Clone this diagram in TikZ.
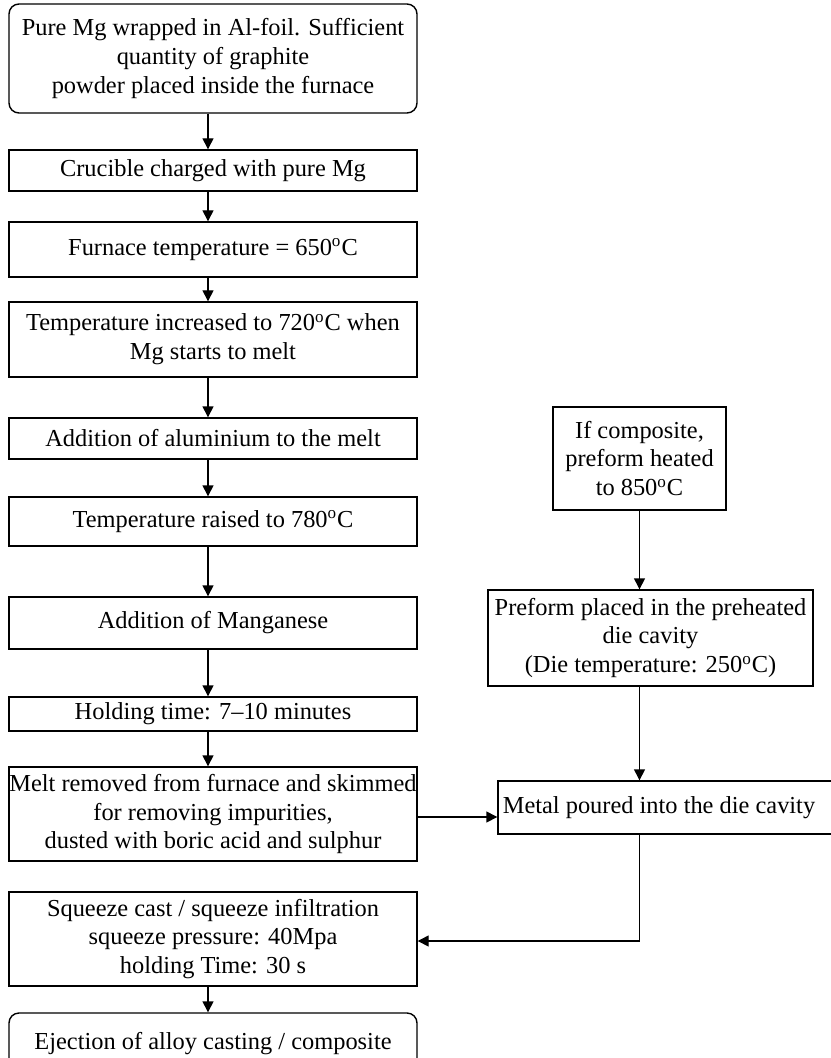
\documentclass[tikz,border=0pt]{standalone}
\usepackage{fontspec}
\setmainfont{Liberation Serif}
\usetikzlibrary{arrows.meta}
\newdimen\px \px=0.5pt
\tikzset{
  stepbox/.style={draw, line width=0.7pt, align=center, inner sep=0pt,
    font=\fontsize{12.2}{14.4}\selectfont},
  leftbox/.style={stepbox, minimum width=408\px},
  roundbox/.style={leftbox, rounded corners=5pt},
  flow/.style={-{Triangle[length=5.5pt,width=5.5pt]}, line width=0.7pt},
}
\newcommand{\degC}{\textsuperscript{o}C}
\begin{document}
\begin{tikzpicture}[x=0.5pt,y=-0.5pt]
            \useasboundingbox (0,0) rectangle (830,1058);
            %colonna sinistra
            \node[roundbox, minimum height=109\px] (wrap) at (213,58.5) {Pure Mg wrapped in Al-foil. Sufficient\\quantity of graphite\\powder placed inside the furnace};
            \node[leftbox, minimum height=41\px] (charge) at (213,170.5) {Crucible charged with pure Mg};
            \node[leftbox, minimum height=55\px] (furnace) at (213,249.5) {Furnace temperature = 650\degC};
            \node[leftbox, minimum height=75\px] (melt) at (213,339.5) {Temperature increased to 720\degC{} when\\Mg starts to melt};
            \node[leftbox, minimum height=41\px] (alu) at (213,438.5) {Addition of aluminium to the melt};
            \node[leftbox, minimum height=49\px] (raise) at (213,521.5) {Temperature raised to 780\degC};
            \node[leftbox, minimum height=52\px] (mn) at (213,623) {Addition of Manganese};
            \node[leftbox, minimum height=34\px] (hold) at (213,714) {Holding time: 7–10 minutes};
            \node[leftbox, minimum height=94\px] (skim) at (213,814) {Melt removed from furnace and skimmed\\for removing impurities,\\dusted with boric acid and sulphur};
            \node[leftbox, minimum height=94\px] (squeeze) at (213,939) {Squeeze cast / squeeze infiltration\\squeeze pressure: 40Mpa\\holding Time: 30 s};
            \node[roundbox, minimum height=62\px] (eject) at (213,1044) {Ejection of alloy casting / composite};
            %colonna destra
            \node[stepbox, minimum width=173\px, minimum height=103\px] (heat) at (639.5,458.5) {If composite,\\preform heated\\to 850\degC};
            \node[stepbox, minimum width=325\px, minimum height=96\px] (die) at (650.5,638) {Preform placed in the preheated\\die cavity\\(Die temperature: 250\degC)};
            \node[stepbox, minimum width=340\px, minimum height=53\px] (pour) at (668,807.5) {\hspace*{-18\px}Metal poured into the die cavity};
            %frecce
            \foreach \a/\b in {wrap/charge, charge/furnace, furnace/melt, melt/alu, alu/raise, raise/mn, mn/hold, hold/skim, squeeze/eject}
              \draw[flow] ([xshift=-5\px]\a.south) -- ([xshift=-5\px]\b.north);
            \draw[flow] (heat.south) -- (heat.south |- die.north);
            \draw[flow] (heat.south |- die.south) -- (heat.south |- pour.north);
            \draw[flow] ([yshift=-3\px]skim.east) -- ([yshift=-3\px]skim.east -| pour.west);
            \draw[flow] (heat.south |- pour.south) |- ([yshift=-2\px]squeeze.east);
         \end{tikzpicture}
\end{document}
